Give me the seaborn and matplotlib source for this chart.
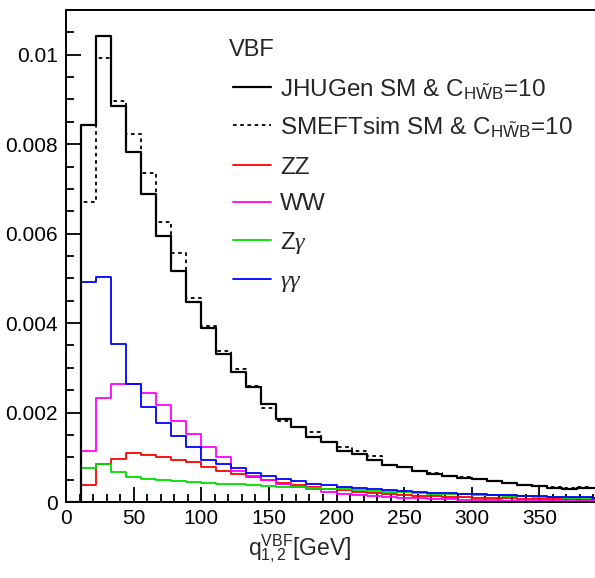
import numpy as np
import pandas as pd
import matplotlib
matplotlib.use("Agg")
import matplotlib.pyplot as plt
from matplotlib.lines import Line2D
from matplotlib.ticker import MultipleLocator, FuncFormatter
import seaborn as sns

# ---------------------- Data ----------------------
# 36 bins of width 400/36 GeV, first bin empty
bin_lo, bin_hi, n_bins = 0.0, 400.0, 36

jhugen = [0, 0.00844, 0.01042, 0.00886, 0.00782, 0.00689, 0.00595, 0.00517, 0.00447,
          0.00389, 0.00331, 0.00291, 0.00256, 0.00219, 0.00186, 0.00167, 0.00146, 0.00135,
          0.00115, 0.00107, 0.00094, 0.00083, 0.00078, 0.00069, 0.00063, 0.00058, 0.00054,
          0.00051, 0.00047, 0.00043, 0.00038, 0.00035, 0.00032, 0.00030, 0.00031, 0.00031]
smeftsim = [0, 0.00670, 0.00993, 0.00897, 0.00823, 0.00735, 0.00627, 0.00556, 0.00456,
            0.00394, 0.00338, 0.00297, 0.00259, 0.00211, 0.00182, 0.00168, 0.00157, 0.00135,
            0.00124, 0.00113, 0.00103, 0.00083, 0.00079, 0.00070, 0.00064, 0.00059, 0.00055,
            0.00052, 0.00047, 0.00043, 0.00039, 0.00035, 0.00033, 0.00031, 0.00033, 0.00032]
zz = [0, 0.00038, 0.00084, 0.00097, 0.00109, 0.00106, 0.00101, 0.00095, 0.00089,
      0.00078, 0.00070, 0.00062, 0.00055, 0.00049, 0.00043, 0.00038, 0.00033, 0.00029,
      0.00026, 0.00023, 0.00020, 0.00018, 0.00016, 0.00014, 0.00013, 0.00012, 0.00011,
      0.00010, 0.00009, 0.00008, 0.00007, 0.00007, 0.00006, 0.00006, 0.00005, 0.00005]
ww = [0, 0.00114, 0.00233, 0.00264, 0.00264, 0.00244, 0.00217, 0.00182, 0.00152,
      0.00122, 0.00100, 0.00070, 0.00058, 0.00050, 0.00040, 0.00034, 0.00028, 0.00023,
      0.00019, 0.00016, 0.00013, 0.00011, 0.00009, 0.00008, 0.00007, 0.00006, 0.00005,
      0.00004, 0.00004, 0.00003, 0.00003, 0.00002, 0.00002, 0.00002, 0.00002, 0.00002]
zgamma = [0, 0.00077, 0.00084, 0.00068, 0.00055, 0.00052, 0.00049, 0.00047, 0.00045,
          0.00043, 0.00041, 0.00040, 0.00038, 0.00036, 0.00034, 0.00033, 0.00031, 0.00030,
          0.00028, 0.00027, 0.00025, 0.00023, 0.00022, 0.00021, 0.00019, 0.00018, 0.00017,
          0.00016, 0.00015, 0.00014, 0.00013, 0.00012, 0.00011, 0.00010, 0.00010, 0.00009]
gamgam = [0, 0.00492, 0.00504, 0.00354, 0.00264, 0.00212, 0.00176, 0.00148, 0.00124,
          0.00095, 0.00085, 0.00075, 0.00065, 0.00058, 0.00051, 0.00046, 0.00041, 0.00037,
          0.00034, 0.00031, 0.00029, 0.00026, 0.00024, 0.00022, 0.00021, 0.00020, 0.00018,
          0.00017, 0.00016, 0.00015, 0.00014, 0.00013, 0.00012, 0.00011, 0.00011, 0.00010]

legend_header = "VBF"
labels = [r"JHUGen SM & C$_{\mathrm{H}\tilde{\mathrm{W}}\mathrm{B}}$=10",
          r"SMEFTsim SM & C$_{\mathrm{H}\tilde{\mathrm{W}}\mathrm{B}}$=10",
          "ZZ", "WW", r"Z$\gamma$", r"$\gamma\gamma$"]
x_title = r"q$^{\mathrm{VBF}}_{\mathrm{1,2}}$[GeV]"

# ---------------------- Style ----------------------
sns.set_style("ticks")
plt.rcParams['font.family'] = ['Liberation Sans', 'DejaVu Sans']
plt.rcParams['mathtext.fontset'] = 'custom'
plt.rcParams['mathtext.rm'] = 'Liberation Sans'
plt.rcParams['mathtext.it'] = 'Liberation Serif:italic'
plt.rcParams['mathtext.bf'] = 'Liberation Sans:bold'

W, H = 595, 578
fig = plt.figure(figsize=(W / 100, H / 100), dpi=100)
ax = fig.add_axes([66 / W, 1 - 502 / H, 541 / W, 492 / H])

edges = np.linspace(bin_lo, bin_hi, n_bins + 1)
centers = 0.5 * (edges[:-1] + edges[1:])

series = [
    (jhugen, "black", "-", 1.6),
    (smeftsim, "black", (0, (2.0, 2.0)), 1.3),
    (zz, "#ff0000", "-", 1.3),
    (ww, "#ff00ff", "-", 1.3),
    (zgamma, "#00dd00", "-", 1.3),
    (gamgam, "#0000ff", "-", 1.3),
]

# draw colored first so the black ones sit on top
for vals, col, ls, lw in series[2:] + series[:2]:
    df = pd.DataFrame({"q": centers, "w": vals})
    sns.histplot(data=df, x="q", weights="w", bins=n_bins, binrange=(bin_lo, bin_hi),
                 element="step", fill=False, color=col, linestyle=ls, linewidth=lw, ax=ax)

ax.set_xlim(0, 400)
ax.set_ylim(0, 0.011)
ax.set_xlabel("")
ax.set_ylabel("")

ax.xaxis.set_major_locator(MultipleLocator(50))
ax.xaxis.set_minor_locator(MultipleLocator(10))
ax.yaxis.set_major_locator(MultipleLocator(0.002))
ax.yaxis.set_minor_locator(MultipleLocator(0.0005))
ax.yaxis.set_major_formatter(FuncFormatter(lambda v, p: "%g" % round(v, 6)))
# the picture is cropped at the right, so the 400 label is not shown
ax.xaxis.set_major_formatter(FuncFormatter(lambda v, p: "%g" % v if v < 390 else ""))

ax.tick_params(which="both", direction="in", top=False, right=False, width=1.3,
               labelsize=15, colors="black")
ax.tick_params(which="major", length=11)
ax.tick_params(which="minor", length=5.5)
ax.tick_params(axis="y", pad=6)
ax.tick_params(axis="x", pad=5)
for s in ax.spines.values():
    s.set_linewidth(1.4)
    s.set_color("black")
ax.spines["right"].set_visible(False)

# ---------------------- Legend (ROOT-like, no frame) ----------------------
def fx(px):
    return px / W

def fy(py):
    return 1 - py / H

fig.text(fx(229), fy(50), legend_header, fontsize=17, ha="left", va="center")
rows_y = [87, 125, 165, 202, 240, 279]
for (vals, col, ls, lw), lab, ry in zip(series, labels, rows_y):
    fig.add_artist(Line2D([fx(233), fx(271)], [fy(ry), fy(ry)], color=col,
                          linestyle=ls, linewidth=lw, transform=fig.transFigure))
    fig.text(fx(280), fy(ry), lab, fontsize=17.5, ha="left", va="center_baseline")

fig.text(fx(300), fy(549), x_title, fontsize=16.5, ha="center", va="center")

plt.savefig("out.png", dpi=100)
plt.close()
